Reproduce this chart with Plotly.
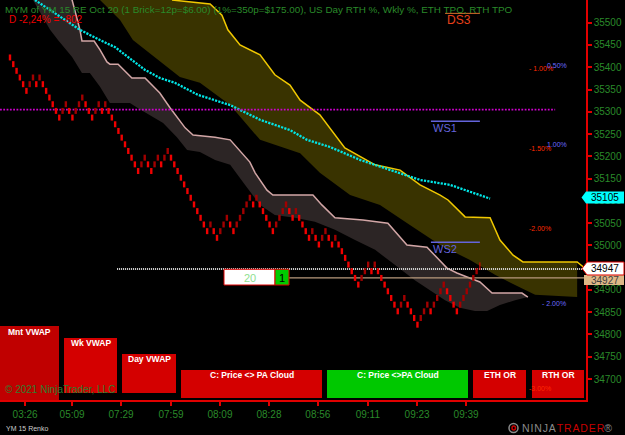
import plotly.graph_objects as go

# ---------------- data ----------------
# Renko brick mid prices, one per brick (oldest -> newest)
brick_mid = [
    35422, 35407, 35392, 35377, 35362, 35347, 35362, 35377, 35362, 35377,
    35362, 35347, 35332, 35317, 35302, 35287, 35302, 35317, 35302, 35287,
    35302, 35317, 35332, 35317, 35302, 35287, 35302, 35317, 35302, 35317,
    35302, 35287, 35272, 35257, 35242, 35227, 35212, 35197, 35182, 35167,
    35182, 35197, 35182, 35167, 35182, 35197, 35182, 35197, 35212,
    35197, 35182, 35167, 35152, 35137, 35122, 35107, 35092, 35077, 35062,
    35047, 35032, 35047, 35032, 35017, 35032, 35047, 35062, 35047, 35032,
    35047, 35062, 35077, 35092, 35107, 35092, 35107, 35092, 35077, 35062,
    35047, 35032, 35047, 35062, 35077, 35092, 35077, 35062, 35077, 35062,
    35047, 35032, 35017, 35032, 35017, 35002, 35017, 35032, 35017, 35002,
    35017, 35002, 34987, 34972, 34957, 34942, 34927, 34912, 34927, 34942,
    34957, 34942, 34957, 34942, 34927, 34912, 34897, 34882, 34867, 34852,
    34867, 34882, 34867, 34852, 34837, 34822, 34837, 34852, 34867, 34852,
    34867, 34882, 34897, 34912, 34897, 34882, 34867, 34852, 34867, 34882,
    34897, 34912, 34927, 34942,
]
brick_half = 6.7
last_wick = [34945, 34962]

time_tick_idx = [4.6, 18.9, 33.8, 49.0, 63.9, 78.8, 93.7, 108.9, 123.9, 138.8]
time_tick_text = ["03:26", "05:09", "07:29", "07:59", "08:09", "08:28",
                  "08:56", "09:11", "09:23", "09:39"]
price_ticks = list(range(34700, 35501, 50))

# VWAP (cyan dotted)
vwap_x = [7.6, 12.2, 16.7, 21.3, 27.4, 32.0, 35.0, 38.0, 41.1, 45.6, 50.2, 57.2,
          67.0, 76.1, 85.2, 90.4, 97.4, 106.5, 115.6, 124.8, 133.9, 140.0, 146.1]
vwap_y = [35551, 35529, 35506, 35484, 35461, 35445, 35428, 35412, 35394, 35376,
          35365, 35338, 35315, 35282, 35259, 35237, 35221, 35192, 35169, 35147,
          35136, 35120, 35105]

# PA cloud upper line (pink)
pa_top_x = [15.0, 18.9, 21.3, 21.9, 25.6, 27.4, 29.5, 30.4, 32.9, 37.1, 41.1, 45.6,
            48.7, 53.3, 55.7, 62.4, 67.0, 73.0, 74.6, 78.2, 80.0, 92.2, 94.9, 98.9,
            107.4, 115.0, 120.8, 126.9, 133.0, 136.0, 139.1, 143.0, 146.7, 155.8, 157.6]
pa_top_y = [35600, 35551, 35484, 35459, 35459, 35439, 35412, 35407, 35407, 35376,
            35376, 35342, 35309, 35264, 35248, 35243, 35237, 35187, 35163, 35124,
            35113, 35113, 35091, 35062, 35057, 35050, 35001, 34996, 34949, 34938,
            34929, 34918, 34893, 34893, 34884]
# PA cloud lower edge
pa_low_x = [3.0, 7.0, 12.2, 14.6, 18.9, 21.9, 24.3, 27.4, 30.4, 36.5, 39.0, 43.5,
            46.6, 50.8, 53.9, 57.8, 62.4, 67.0, 71.5, 76.1, 80.6, 86.7, 92.8, 98.9,
            105.0, 111.1, 117.2, 123.2, 127.8, 132.4, 136.9, 141.5, 145.2, 149.1,
            153.7, 157.6]
pa_low_y = [35600, 35551, 35484, 35461, 35423, 35387, 35387, 35356, 35320, 35320,
            35308, 35288, 35275, 35243, 35214, 35210, 35192, 35181, 35136, 35091,
            35068, 35062, 35053, 35035, 35012, 34990, 34956, 34922, 34900, 34877,
            34860, 34853, 34853, 34866, 34877, 34884]

# Olive cloud upper line (yellow)
cl_top_x = [49.3, 56.9, 60.9, 64.5, 66.3, 70.0, 76.1, 80.6, 85.2, 88.3, 94.3, 101.9,
            111.1, 118.7, 124.8, 130.9, 133.3, 138.5, 146.1, 149.1, 153.1, 156.1,
            172.6, 174.4]
cl_top_y = [35551, 35544, 35542, 35517, 35484, 35450, 35428, 35383, 35360, 35326,
            35293, 35219, 35181, 35169, 35136, 35113, 35102, 35064, 35062, 35012,
            34978, 34963, 34963, 34952]
# Olive cloud lower edge
cl_low_x = [25.5, 27.4, 33.5, 37.4, 42.6, 47.8, 51.7, 57.8, 67.0, 76.1, 88.3, 94.3,
            97.4, 103.5, 112.6, 121.7, 130.9, 140.0, 147.6, 153.7, 159.8, 172.6]
cl_low_y = [35590, 35551, 35506, 35461, 35432, 35401, 35378, 35365, 35315, 35237,
            35207, 35163, 35147, 35113, 35091, 35046, 35001, 34967, 34934, 34911,
            34889, 34884]

lvl_magenta = 35305
lvl_last = 34947
lvl_tan = 34927
lvl_ds3 = 35521
lvl_ws1 = 35279
lvl_ws2 = 35007

X_MIN, X_MAX = -3.04, 175.2
Y_MIN, Y_MAX = 34652.9, 35551.0

W, H = 625, 435


def px(x):
    return x / W


def py(y):
    return 1 - y / H


fig = go.Figure()

# olive cloud
fig.add_trace(go.Scatter(
    x=[26.0, 48.0] + cl_top_x[:-1] + cl_low_x[::-1],
    y=[35590, 35565] + cl_top_y[:-1] + cl_low_y[::-1],
    mode="lines", fill="toself", fillcolor="#393300",
    line=dict(width=0), hoverinfo="skip"))
# PA cloud
fig.add_trace(go.Scatter(
    x=pa_top_x + pa_low_x[::-1], y=pa_top_y + pa_low_y[::-1],
    mode="lines", fill="toself", fillcolor="#2c2525",
    line=dict(width=0), hoverinfo="skip"))
fig.add_trace(go.Scatter(x=pa_top_x, y=pa_top_y, mode="lines",
                         line=dict(color="#d2a6a6", width=1.5), hoverinfo="skip"))
fig.add_trace(go.Scatter(x=cl_top_x, y=cl_top_y, mode="lines",
                         line=dict(color="#f0c800", width=1.5), hoverinfo="skip"))
fig.add_trace(go.Scatter(x=vwap_x, y=vwap_y, mode="lines",
                         line=dict(color="#00e5e5", width=2.3, dash="2.2px,1.2px"),
                         hoverinfo="skip"))
# horizontal levels
fig.add_trace(go.Scatter(x=[X_MIN, 165.9], y=[lvl_magenta] * 2, mode="lines",
                         line=dict(color="#cc00cc", width=1.8, dash="1.8px,1.5px"),
                         hoverinfo="skip"))
fig.add_trace(go.Scatter(x=[84.9, X_MAX], y=[lvl_tan] * 2, mode="lines",
                         line=dict(color="#b89a7c", width=1.3), hoverinfo="skip"))
fig.add_trace(go.Scatter(x=[32.6, X_MAX], y=[lvl_last] * 2, mode="lines",
                         line=dict(color="#e0e0e0", width=2, dash="1px,1px"),
                         hoverinfo="skip"))
fig.add_trace(go.Scatter(x=[132.4, 143.0], y=[lvl_ds3] * 2, mode="lines",
                         line=dict(color="#d8702a", width=1), hoverinfo="skip"))
fig.add_trace(go.Scatter(x=[128.1, 143.0], y=[lvl_ws1] * 2, mode="lines",
                         line=dict(color="#6464dc", width=1.5), hoverinfo="skip"))
fig.add_trace(go.Scatter(x=[128.1, 143.0], y=[lvl_ws2] * 2, mode="lines",
                         line=dict(color="#6464dc", width=1.5), hoverinfo="skip"))

# renko bricks
up_x, up_y, dn_x, dn_y = [], [], [], []
for i, m in enumerate(brick_mid):
    up = i > 0 and m > brick_mid[i - 1]
    tx, ty = (up_x, up_y) if up else (dn_x, dn_y)
    tx += [i, i, None]
    ty += [m - brick_half, m + brick_half, None]
fig.add_trace(go.Scatter(x=dn_x, y=dn_y, mode="lines",
                         line=dict(color="#f00000", width=2.4), hoverinfo="skip"))
fig.add_trace(go.Scatter(x=up_x, y=up_y, mode="lines",
                         line=dict(color="#a20000", width=2.4), hoverinfo="skip"))
n = len(brick_mid)
fig.add_trace(go.Scatter(x=[n, n], y=last_wick, mode="lines",
                         line=dict(color="#f00000", width=1), hoverinfo="skip"))

shapes = []
annots = []
FONT = "Liberation Sans, Arial, sans-serif"


def text(x, y, s, color, size=10, anchor="left", bold=False):
    if bold:
        s = "<b>" + s + "</b>"
    annots.append(dict(x=px(x), y=py(y), xref="paper", yref="paper", text=s,
                       showarrow=False, xanchor=anchor, yanchor="middle",
                       font=dict(color=color, size=size, family=FONT)))


def rect(x0, y0, x1, y1, fill, line=None, lw=0):
    shapes.append(dict(type="rect", xref="paper", yref="paper",
                       x0=px(x0), x1=px(x1), y0=py(y1), y1=py(y0),
                       fillcolor=fill, line=dict(color=line or fill, width=lw),
                       layer="above"))


def poly(pts, fill, line=None, lw=0):
    p = "M " + " L ".join(f"{px(a):.5f},{py(b):.5f}" for a, b in pts) + " Z"
    shapes.append(dict(type="path", xref="paper", yref="paper", path=p,
                       fillcolor=fill, line=dict(color=line or fill, width=lw),
                       layer="above"))


# header texts
text(3, 9.5, "MYM of YM 15 RE Oct 20 (1 Brick=12p=$6.00) (1%=350p=$175.00), "
     "US Day RTH %, Wkly %, ETH TPO, RTH TPO", "#2a8a2a", 9.9)
text(7, 19.5, "D -2,24% = -802", "#ee0000", 10)
text(459, 20, "DS3", "#e8401a", 12, "center")
text(431, 128, "WS1", "#6464dc", 11)
text(431, 249, "WS2", "#6464dc", 11)

# percent markers
for (x, y, s, c) in [(527, 68.7, "- 1.00%", "#ff2a00"), (545, 65, "0.50%", "#6a6aff"),
                     (527, 148.3, "-1.50%", "#ff2a00"), (545, 145, "1.00%", "#6a6aff"),
                     (527, 228, "-2.00%", "#ff2a00"), (540, 303, "- 2.00%", "#6a6aff"),
                     (527, 388, "-3.00%", "#ff2a00")]:
    text(x, y, s, c, 7)

# 20 | 1 box
rect(224, 269.3, 275, 285, "#ffffff", "#dd0000", 1)
rect(275, 269.3, 289, 285, "#00cc00", "#dd0000", 1)
text(249.5, 277.5, "20", "#90e090", 11, "center")
text(282, 277.5, "1", "#000000", 11, "center")

# buttons
buttons = [(0, 326, 59, 400, "#c00000", "Mnt VWAP", 331.5),
           (64, 338, 117, 393, "#d40000", "Wk VWAP", 343),
           (122, 354, 176, 393, "#d40000", "Day VWAP", 358.5),
           (181, 370, 322, 398, "#d40000", "C: Price &lt;&gt; PA Cloud", 374.5),
           (327, 370, 468, 398, "#00c800", "C: Price &lt;&gt;PA Cloud", 374.5),
           (473, 370, 526, 398, "#d40000", "ETH OR", 374.5),
           (532, 370, 584, 398, "#d40000", "RTH OR", 374.5)]
for x0, y0, x1, y1, col, lab, ty in buttons:
    rect(x0, y0, x1, y1, col)
    text((x0 + x1) / 2, ty, lab, "#ffffff", 8.5, "center", bold=True)

text(3, 389, "\u00a9 2021 NinjaTrader, LLC", "#2e7d2e", 10)
text(4, 428, "YM 15 Renko", "#cccccc", 7)
text(520, 428, "<span style='color:#8a8a8a'>N\u200aI\u200aN\u200aJ\u200aA</span>"
     "<span style='color:#c80000'>\u200aT\u200aR\u200aA\u200aD\u200aE\u200aR</span>"
     "<span style='color:#8a8a8a'>\u00ae</span>", "#8a8a8a", 10.5)
shapes.append(dict(type="circle", xref="paper", yref="paper",
                   x0=px(509), x1=px(518), y0=py(432.5), y1=py(423.5),
                   line=dict(color="#8a8a8a", width=1.5), layer="above"))
shapes.append(dict(type="circle", xref="paper", yref="paper",
                   x0=px(512), x1=px(515.5), y0=py(430), y1=py(426),
                   line=dict(color="#c80000", width=1.5), layer="above"))

# right-axis price labels
poly([(581.5, 197.5), (586, 191.5), (624, 191.5), (624, 203.5), (586, 203.5)], "#00ffff")
text(604.5, 197.5, "35105", "#000000", 10, "center")
rect(584, 275, 624, 285, "#deb887")
text(604.5, 280.5, "34927", "#404040", 10, "center")
poly([(582, 268.5), (587, 262), (624, 262), (624, 275), (587, 275)], "#ffffff", "#dd0000", 1)
text(605, 268.5, "34947", "#000000", 10, "center")

fig.update_layout(
    width=W, height=H, autosize=False,
    margin=dict(l=0, r=0, t=0, b=0),
    paper_bgcolor="#000000", plot_bgcolor="#000000",
    showlegend=False, hovermode=False,
    font=dict(family=FONT),
    shapes=shapes, annotations=annots,
    xaxis=dict(domain=[0, 585.7 / W], range=[X_MIN, X_MAX],
               tickvals=time_tick_idx, ticktext=time_tick_text,
               showgrid=False, zeroline=False, showline=True,
               linecolor="#e00000", linewidth=2, ticks="outside",
               tickcolor="#e00000", ticklen=4, tickwidth=1.5,
               tickfont=dict(color="#2a8a2a", size=10, family=FONT)),
    yaxis=dict(domain=[1 - 400 / H, 1], range=[Y_MIN, Y_MAX], side="right",
               tickvals=price_ticks, tickformat="d",
               showgrid=False, zeroline=False, showline=True,
               linecolor="#e00000", linewidth=2, ticks="outside",
               tickcolor="#e00000", ticklen=4, tickwidth=1.5,
               tickfont=dict(color="#2a8a2a", size=10, family=FONT)),
)

fig.write_html("out.html")
